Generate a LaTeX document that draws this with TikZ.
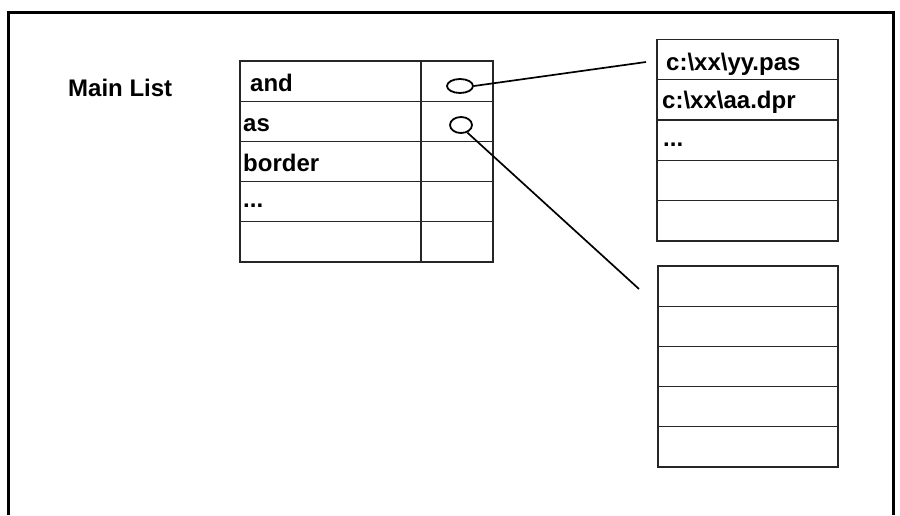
\documentclass[tikz,border=0pt]{standalone}
\usepackage{fontspec}
\setmainfont{Liberation Sans}
\usetikzlibrary{shapes.geometric}
\begin{document}
\begin{tikzpicture}[x=1pt,y=-1pt,
  cell/.style={draw=black!85,line width=1.2pt,inner sep=0pt,outer sep=0pt,anchor=north west,
               minimum height=40.2pt},
  txt/.style={anchor=base west,inner sep=0pt,font=\fontsize{24}{26}\selectfont\bfseries},
  ptr/.style={draw,ellipse,line width=1.8pt,inner sep=0pt},
  link/.style={line width=1.7pt}]
\useasboundingbox (0,0) rectangle (900,515);
% outer frame, open at the bottom
\draw[line width=3pt] (8,515) -- (8,12) -- (893.5,12) -- (893.5,515);

\node[txt] (title) at (68,96) {Main List};

% main list: key column and pointer column
\foreach \r in {1,...,5}{
  \pgfmathsetmacro{\y}{61+40.2*(\r-1)}
  \node[cell,minimum width=181pt] (k\r) at (240,\y) {};
  \node[cell,minimum width=72pt] (p\r) at (421,\y) {};
}
\node[txt] (tand) at (250,91.5) {and};
\node[txt] (tas) at (243,131) {as};
\node[txt] (tborder) at (243,171) {border};
\node[txt] (tdots) at (243,207) {...};

% file list of the first key
\foreach \r in {1,...,5}{
  \pgfmathsetmacro{\y}{39.5+40.3*(\r-1)}
  \node[cell,minimum width=181pt] (a\r) at (657,\y) {};
}
\node[txt] (f1) at (666,70) {c:\textbackslash xx\textbackslash yy.pas};
\node[txt] (f2) at (662,108.5) {c:\textbackslash xx\textbackslash aa.dpr};
\node[txt] (f3) at (663,146) {...};

% file list of the second key
\foreach \r in {1,...,5}{
  \pgfmathsetmacro{\y}{266+40.2*(\r-1)}
  \node[cell,minimum width=180pt] (b\r) at (658,\y) {};
}

% pointers
\node[ptr,minimum width=26pt,minimum height=14pt] (ptrA) at (460,86) {};
\node[ptr,minimum width=22pt,minimum height=16pt] (ptrB) at (461,125) {};
\coordinate (endA) at (646,62);
\coordinate (endB) at (639,289);
\draw[link] (ptrA.east) -- (endA);
\draw[link] (ptrB.-50) -- (endB);
\end{tikzpicture}
\end{document}
